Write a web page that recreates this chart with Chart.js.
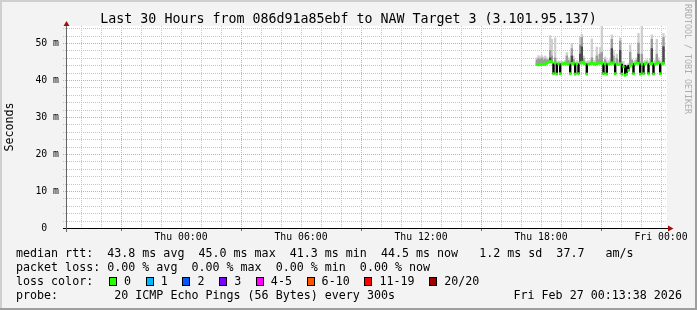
<!DOCTYPE html>
<html>
<head>
<meta charset="utf-8">
<script src="https://cdn.jsdelivr.net/npm/chart.js@4"></script>
<style>
html,body{margin:0;padding:0;background:#f3f3f3;overflow:hidden}
canvas{display:block}
</style>
</head>
<body>
<canvas id="c" width="697" height="310"></canvas>
<script>
// ---------- text ----------
const titleText = 'Last 30 Hours from 086d91a85ebf to NAW Target 3 (3.101.95.137)';
const yAxisTitle = 'Seconds';
const watermark = 'RRDTOOL / TOBI OETIKER';
const statsLines = [
  'median rtt:  43.8 ms avg  45.0 ms max  41.3 ms min  44.5 ms now   1.2 ms sd  37.7   am/s',
  'packet loss: 0.00 % avg  0.00 % max  0.00 % min  0.00 % now'
];
const lossLabel = 'loss color:';
const lossNames = ['0', '1', '2', '3', '4-5', '6-10', '11-19', '20/20'];
const lossColors = ['#26ff00', '#00b8ff', '#0059ff', '#7e00ff', '#ff00ff', '#ff5500', '#ff0000', '#a10000'];
const probeText = 'probe:        20 ICMP Echo Pings (56 Bytes) every 300s';
const dateText = 'Fri Feb 27 00:13:38 2026';

// ---------- axes ----------
// x in hours relative to Thu 00:00
const xRange = [-5.7, 24.3];
const xTickHours = [0, 6, 12, 18, 24];
const xTickLabels = ['Thu 00:00', 'Thu 06:00', 'Thu 12:00', 'Thu 18:00', 'Fri 00:00'];
const xMajorGridHours = [-3, 3, 9, 15, 21];
const yRange = [0, 54.6];
const yTickValues = [0, 10, 20, 30, 40, 50];
const yTickLabels = ['0  ', '10 m', '20 m', '30 m', '40 m', '50 m'];
const yMinorStep = 2;

// ---------- samples (5 minute steps starting Thu 17:45) ----------
const sampleStartHour = 17.75;
const sampleStepHours = 5 / 60;

const median = [
  44.2,44.1,44.2,44.3,44.2,44.3,44.5,44.8,45.0,44.9,
  41.7,44.6,41.6,44.4,41.7,44.3,44.4,44.5,44.4,44.3,
  41.7,44.5,44.4,41.6,44.4,41.7,44.6,44.8,44.5,44.4,
  41.6,44.3,44.4,44.5,44.4,44.3,44.4,44.5,44.6,44.5,
  41.7,44.4,41.6,44.3,44.4,44.6,44.5,41.7,44.3,44.2,
  44.4,41.6,43.6,41.3,41.6,42.6,43.8,44.3,41.7,44.4,
  44.6,44.5,41.6,44.3,41.7,44.4,44.6,41.7,44.4,44.5,
  41.6,44.3,44.5,44.6,41.7,44.4,44.5
];
const smokeMax = [
  46.0,46.6,46.3,46.6,46.2,46.5,46.0,45.8,52.0,51.0,
  45.0,51.4,45.0,45.2,45.0,45.1,45.0,45.3,47.4,46.0,
  45.2,49.9,46.5,45.0,45.3,45.0,51.6,52.4,46.5,45.2,
  45.0,45.3,45.2,51.1,45.4,45.2,48.9,47.0,48.8,55.5,
  45.0,46.2,45.0,45.3,45.5,52.2,48.0,45.0,47.0,45.4,
  51.4,45.0,45.0,44.0,43.5,44.5,49.5,45.5,45.0,45.4,
  46.0,52.6,45.0,55.5,45.0,45.3,45.5,45.0,45.6,52.2,
  45.0,45.4,51.0,46.0,45.0,45.5,52.6
];
const smokeMid = [
  45.4,45.8,45.5,45.9,45.4,45.7,45.4,45.4,48.0,46.5,
  null,46.0,null,null,null,null,null,null,46.5,45.3,
  null,48.5,45.6,null,null,null,49.5,51.5,45.8,null,
  null,null,null,46.0,null,null,46.5,45.6,47.0,47.5,
  null,45.5,null,null,null,51.0,46.5,null,45.8,null,
  50.5,null,null,null,null,null,47.5,45.4,null,null,
  45.4,50.0,null,47.0,null,null,null,null,null,51.0,
  null,null,47.0,45.2,null,null,51.5
];
const smokeDark = [
  null,null,null,null,null,null,null,null,46.0,null,
  null,null,null,null,null,null,null,null,null,null,
  null,46.5,null,null,null,null,47.0,49.0,null,null,
  null,null,null,null,null,null,null,null,null,null,
  null,null,null,null,null,48.5,null,null,null,null,
  48.0,null,null,null,null,null,null,null,null,null,
  null,47.0,null,null,null,null,null,null,null,48.5,
  null,null,null,null,null,null,49.0
];
const denseTop = [
  null,null,null,null,null,null,null,null,null,null,
  44.4,null,44.4,null,44.4,null,null,null,null,null,
  44.3,null,null,44.4,null,44.4,null,null,null,null,
  44.4,null,null,null,null,null,null,null,null,null,
  44.4,null,44.4,null,null,null,null,44.4,null,null,
  null,44.3,null,44.0,43.6,44.0,null,null,44.4,null,
  null,null,44.4,null,44.4,null,null,44.4,null,null,
  44.4,null,null,null,44.4,null,null
];
const medianHalfBand = 0.3;

// ---------- build datasets ----------
const sampleX = i => sampleStartHour + (i + 0.5) * sampleStepHours;
function band(lowArr, highArr) {
  const out = [];
  for (let i = 0; i < median.length; i++) {
    const lo = typeof lowArr === 'function' ? lowArr(i) : lowArr[i];
    const hi = typeof highArr === 'function' ? highArr(i) : highArr[i];
    if (lo == null || hi == null) continue;
    out.push({ x: sampleX(i), y: [lo, hi] });
  }
  return out;
}
const medianData = band(i => median[i] - medianHalfBand, i => median[i] + medianHalfBand);
const denseData = band(median, denseTop);
const darkData = band(median, smokeDark);
const midData = band(median, smokeMid);
const lightData = band(median, smokeMax);

const GRID_MINOR = '#c6c6c6';
const GRID_MAJOR = '#f09c9c';
const MONO = '"DejaVu Sans Mono", "Liberation Mono", monospace';

const xGridTicks = [];
for (let h = Math.ceil(xRange[0]); h <= Math.floor(xRange[1]); h++) xGridTicks.push(h);
const yGridTicks = [];
for (let v = yRange[0]; v <= yRange[1]; v += yMinorStep) yGridTicks.push(v);

const decor = {
  id: 'decor',
  beforeDraw(chart) {
    const { ctx, chartArea: a } = chart;
    const W = chart.width, H = chart.height;
    ctx.save();
    ctx.fillStyle = '#f3f3f3';
    ctx.fillRect(0, 0, W, H);
    ctx.fillStyle = '#cfcfcf';
    ctx.fillRect(0, 0, W, 2);
    ctx.fillRect(0, 0, 2, H);
    ctx.fillStyle = '#9e9e9e';
    ctx.fillRect(0, H - 2, W, 2);
    ctx.fillRect(W - 2, 0, 2, H);
    ctx.fillStyle = '#ffffff';
    ctx.fillRect(a.left, a.top, a.right - a.left, a.bottom - a.top);
    ctx.restore();
  },
  beforeDatasetsDraw(chart) {
    // dotted grid through the chart's own scales
    const { ctx, chartArea: a, scales } = chart;
    ctx.save();
    for (const h of xGridTicks) {
      const px = Math.round(scales.x.getPixelForValue(h));
      ctx.fillStyle = xMajorGridHours.indexOf(h) >= 0 ? GRID_MAJOR : GRID_MINOR;
      for (let y = a.top; y < a.bottom; y += 2) ctx.fillRect(px, y, 1, 1);
    }
    for (const v of yGridTicks) {
      if (v === 0) continue;
      const py = Math.round(scales.y.getPixelForValue(v));
      ctx.fillStyle = yTickValues.indexOf(v) >= 0 ? GRID_MAJOR : GRID_MINOR;
      for (let x = a.left - 4; x < a.right; x += 2) ctx.fillRect(x, py, 1, 1);
    }
    ctx.restore();
  },
  afterDraw(chart) {
    const { ctx, chartArea: a, scales } = chart;
    ctx.save();
    // small major tick marks under x axis
    ctx.fillStyle = '#d04040';
    for (const h of xMajorGridHours) {
      const px = Math.round(scales.x.getPixelForValue(h));
      ctx.fillRect(px, a.bottom + 1, 1, 2);
    }
    // axes
    ctx.fillStyle = '#000';
    ctx.fillRect(a.left - 4, a.bottom, a.right - a.left + 6, 1);
    ctx.fillStyle = '#666';
    ctx.fillRect(a.left - 1, a.top - 2, 1, a.bottom - a.top + 6);
    ctx.fillStyle = '#a11010';
    ctx.beginPath();
    ctx.moveTo(a.right + 1, a.bottom - 2.5);
    ctx.lineTo(a.right + 6.5, a.bottom + 0.5);
    ctx.lineTo(a.right + 1, a.bottom + 3.5);
    ctx.closePath();
    ctx.fill();
    ctx.beginPath();
    ctx.moveTo(a.left - 3.5, a.top);
    ctx.lineTo(a.left - 0.5, a.top - 5);
    ctx.lineTo(a.left + 2.5, a.top);
    ctx.closePath();
    ctx.fill();

    // title
    ctx.fillStyle = '#000';
    ctx.textBaseline = 'middle';
    ctx.textAlign = 'center';
    ctx.font = '13.3px ' + MONO;
    ctx.fillText(titleText, 348.5, 19.3);

    // y axis title
    ctx.save();
    ctx.translate(10, 127);
    ctx.rotate(-Math.PI / 2);
    ctx.font = '11.66px ' + MONO;
    ctx.fillText(yAxisTitle, 0, 0);
    ctx.restore();

    // watermark
    ctx.save();
    ctx.translate(687.5, 59);
    ctx.rotate(Math.PI / 2);
    ctx.font = '8.3px ' + MONO;
    ctx.fillStyle = '#adadad';
    ctx.fillText(watermark, 0, 0);
    ctx.restore();

    // legend
    ctx.textAlign = 'left';
    ctx.font = '11.66px ' + MONO;
    ctx.fillStyle = '#000';
    const rowY = [254, 268.3, 281.7, 296];
    ctx.fillText(statsLines[0], 16, rowY[0]);
    ctx.fillText(statsLines[1], 16, rowY[1]);
    ctx.fillText(lossLabel, 16, rowY[2]);
    let bx = 109;
    for (let k = 0; k < lossNames.length; k++) {
      const rx = Math.round(bx);
      ctx.fillStyle = lossColors[k];
      ctx.fillRect(rx, 277, 8, 9);
      ctx.strokeStyle = '#000';
      ctx.lineWidth = 1;
      ctx.strokeRect(rx + 0.5, 277.5, 7, 8);
      ctx.fillStyle = '#000';
      ctx.fillText(lossNames[k], bx + 15, rowY[2]);
      bx += 15 + ctx.measureText(lossNames[k]).width + 14.7;
    }
    ctx.fillText(probeText, 16, rowY[3]);
    ctx.fillText(dateText, 513.5, rowY[3]);
    ctx.restore();
  }
};

new Chart(document.getElementById('c'), {
  type: 'bar',
  data: {
    datasets: [
      { label: 'median', data: medianData, backgroundColor: '#26ff00', order: 0 },
      { label: 'dense', data: denseData, backgroundColor: '#000000', order: 1 },
      { label: 'smoke dark', data: darkData, backgroundColor: '#4a4a4a', order: 2 },
      { label: 'smoke mid', data: midData, backgroundColor: '#9c9c9c', order: 3 },
      { label: 'smoke light', data: lightData, backgroundColor: '#cfcfcf', order: 4 }
    ]
  },
  options: {
    responsive: false,
    animation: false,
    devicePixelRatio: 1,
    layout: { padding: { left: 0, top: 26, right: 30, bottom: 0 } },
    datasets: { bar: { grouped: false, barPercentage: 1, categoryPercentage: 1, borderWidth: 0 } },
    plugins: { legend: { display: false }, tooltip: { enabled: false }, title: { display: false } },
    scales: {
      x: {
        type: 'linear',
        min: xRange[0],
        max: xRange[1],
        offset: false,
        afterBuildTicks: s => { s.ticks = xGridTicks.map(v => ({ value: v })); },
        afterFit: s => { s.height = 82; },
        ticks: {
          autoSkip: false, maxRotation: 0, minRotation: 0, padding: 4, color: '#000',
          font: { family: MONO, size: 9.8 },
          callback: v => { const k = xTickHours.indexOf(v); return k >= 0 ? xTickLabels[k] : ''; }
        },
        grid: { display: false, drawTicks: false, tickLength: 0, offset: false },
        border: { display: false }
      },
      y: {
        min: yRange[0],
        max: yRange[1],
        afterBuildTicks: s => { s.ticks = yTickValues.map(v => ({ value: v })); },
        afterFit: s => { s.width = 67; },
        ticks: {
          autoSkip: false, padding: 8, color: '#000',
          font: { family: MONO, size: 9.8 },
          callback: v => { const k = yTickValues.indexOf(v); return k >= 0 ? yTickLabels[k] : ''; }
        },
        grid: { display: false, drawTicks: false, tickLength: 0 },
        border: { display: false }
      }
    }
  },
  plugins: [decor]
});
</script>
</body>
</html>
